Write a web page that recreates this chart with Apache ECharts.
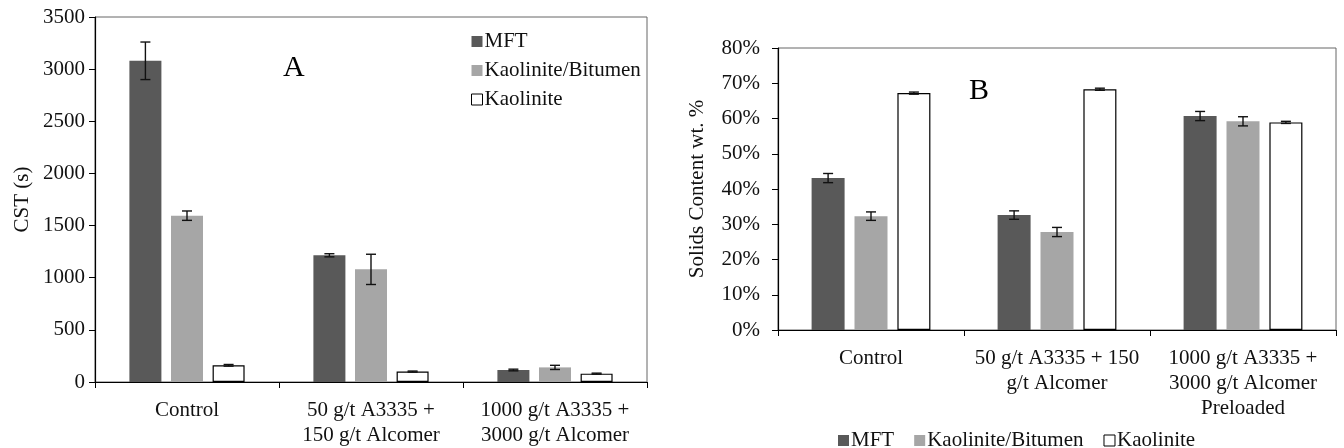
<!DOCTYPE html>
<html>
<head>
<meta charset="utf-8">
<script src="https://cdn.jsdelivr.net/npm/echarts@6/dist/echarts.min.js"></script>
<style>
  html, body { margin: 0; padding: 0; background: #fff; }
  #chart { width: 1344px; height: 448px; }
</style>
</head>
<body>
<div id="chart"></div>
<script>
// Panel A: capillary suction time (s)
const categoriesA = ['Control', '50 g/t A3335 +\n150 g/t Alcomer', '1000 g/t A3335 +\n3000 g/t Alcomer'];
const cstMFT = [3080, 1215, 115];
const cstMFTErr = [180, 15, 8];
const cstKaoBit = [1595, 1080, 140];
const cstKaoBitErr = [45, 145, 20];
const cstKao = [160, 100, 80];
const cstKaoErr = [8, 5, 5];

// Panel B: solids content (wt. %)
const categoriesB = ['Control', '50 g/t A3335 + 150\ng/t Alcomer', '1000 g/t A3335 +\n3000 g/t Alcomer\nPreloaded'];
const solMFT = [43.1, 32.6, 60.7];
const solMFTErr = [1.3, 1.2, 1.3];
const solKaoBit = [32.3, 27.8, 59.2];
const solKaoBitErr = [1.2, 1.3, 1.3];
const solKao = [67.2, 68.3, 58.9];
const solKaoErr = [0.3, 0.3, 0.3];

const seriesNames = ['MFT', 'Kaolinite/Bitumen', 'Kaolinite'];

const FONT = "'Liberation Serif', 'Times New Roman', serif";
const FS = 21;
const TXT = '#111';
const BAR_W_A = 32, BAR_W_B = 33, GAP_RATIO = 0.3;
const fills = ['#595959', '#a6a6a6', '#ffffff'];

function barStyle(i) {
  return i === 2
    ? { color: '#ffffff', borderColor: '#000', borderWidth: 1.2 }
    : { color: fills[i] };
}

function barSeries(name, idx, values, axisIdx, bw) {
  return {
    name: name, type: 'bar', xAxisIndex: axisIdx, yAxisIndex: axisIdx,
    data: values, barWidth: bw, barGap: (GAP_RATIO * 100) + '%',
    itemStyle: barStyle(idx), emphasis: { disabled: true }, z: 2
  };
}

function errData(vals, errs) {
  const out = [];
  vals.forEach((v, s) => v.forEach((y, c) => out.push([c, s, y, errs[s][c]])));
  return out;
}

function errSeries(axisIdx, data, bw) {
  const step = bw * (1 + GAP_RATIO);
  return {
    type: 'custom', xAxisIndex: axisIdx, yAxisIndex: axisIdx, z: 5,
    silent: true, data: data,
    renderItem: function (params, api) {
      const c = api.value(0), s = api.value(1), y = api.value(2), e = api.value(3);
      const hi = api.coord([c, y + e]);
      const lo = api.coord([c, y - e]);
      const x = hi[0] + (s - 1) * step;
      const cap = 5;
      const st = { stroke: '#111', lineWidth: 1.4 };
      return {
        type: 'group', children: [
          { type: 'line', shape: { x1: x, y1: hi[1], x2: x, y2: lo[1] }, style: st },
          { type: 'line', shape: { x1: x - cap, y1: hi[1], x2: x + cap, y2: hi[1] }, style: st },
          { type: 'line', shape: { x1: x - cap, y1: lo[1], x2: x + cap, y2: lo[1] }, style: st }
        ]
      };
    }
  };
}

function legendData() {
  return seriesNames.map((n, i) => ({
    name: n,
    itemStyle: i === 2 ? { color: '#fff', borderColor: '#000', borderWidth: 1 } : { color: fills[i] }
  }));
}

const chart = echarts.init(document.getElementById('chart'), null, { renderer: 'canvas' });

const catAxis = (idx, cats, margin) => ({
  type: 'category', gridIndex: idx, data: cats,
  axisLine: { lineStyle: { color: '#000', width: 1.2 } },
  axisTick: { show: true, alignWithLabel: false, length: 6, lineStyle: { color: '#000' } },
  axisLabel: { fontFamily: FONT, fontSize: FS, color: TXT, lineHeight: 25, margin: margin, interval: 0 },
  splitLine: { show: false }
});

chart.setOption({
  animation: false,
  textStyle: { fontFamily: FONT },
  grid: [
    { left: 95, top: 17, width: 552, height: 368, show: true, borderColor: '#666', borderWidth: 1 },
    { left: 778, top: 48, width: 558, height: 282, show: true, borderColor: '#666', borderWidth: 1 }
  ],
  xAxis: [catAxis(0, categoriesA, 16), catAxis(1, categoriesB, 16)],
  yAxis: [
    {
      type: 'value', gridIndex: 0, min: 0, max: 3500, interval: 500,
      name: 'CST (s)', nameLocation: 'middle', nameGap: 62, nameRotate: 90,
      nameTextStyle: { fontFamily: FONT, fontSize: FS, color: TXT },
      axisLine: { show: true, lineStyle: { color: '#000', width: 1.2 } },
      axisTick: { show: true, length: 6, lineStyle: { color: '#000' } },
      axisLabel: { fontFamily: FONT, fontSize: FS, color: TXT, margin: 10, formatter: v => String(v) },
      splitLine: { show: false }
    },
    {
      type: 'value', gridIndex: 1, min: 0, max: 80, interval: 10,
      name: 'Solids Content wt. %', nameLocation: 'middle', nameGap: 70, nameRotate: 90,
      nameTextStyle: { fontFamily: FONT, fontSize: FS, color: TXT },
      axisLine: { show: true, lineStyle: { color: '#000', width: 1.2 } },
      axisTick: { show: true, length: 6, lineStyle: { color: '#000' } },
      axisLabel: { fontFamily: FONT, fontSize: FS, color: TXT, margin: 18, formatter: '{value}%' },
      splitLine: { show: false }
    }
  ],
  legend: [
    {
      orient: 'vertical', left: 466, top: 26, itemWidth: 11, itemHeight: 11, itemGap: 8,
      icon: 'rect', selectedMode: false, data: legendData(),
      textStyle: { fontFamily: FONT, fontSize: FS, color: TXT, padding: [0, 0, 0, -3] }
    },
    {
      orient: 'horizontal', left: 833, top: 425, itemWidth: 11, itemHeight: 11, itemGap: 20,
      icon: 'rect', selectedMode: false, data: legendData(),
      textStyle: { fontFamily: FONT, fontSize: FS, color: TXT, padding: [0, 0, 0, -3] }
    }
  ],
  graphic: [
    { type: 'text', left: 283, top: 53, style: { text: 'A', font: '30px ' + FONT, fill: '#000' } },
    { type: 'text', left: 969, top: 76, style: { text: 'B', font: '30px ' + FONT, fill: '#000' } }
  ],
  series: [
    barSeries('MFT', 0, cstMFT, 0, BAR_W_A),
    barSeries('Kaolinite/Bitumen', 1, cstKaoBit, 0, BAR_W_A),
    barSeries('Kaolinite', 2, cstKao, 0, BAR_W_A),
    errSeries(0, errData([cstMFT, cstKaoBit, cstKao], [cstMFTErr, cstKaoBitErr, cstKaoErr]), BAR_W_A),
    barSeries('MFT', 0, solMFT, 1, BAR_W_B),
    barSeries('Kaolinite/Bitumen', 1, solKaoBit, 1, BAR_W_B),
    barSeries('Kaolinite', 2, solKao, 1, BAR_W_B),
    errSeries(1, errData([solMFT, solKaoBit, solKao], [solMFTErr, solKaoBitErr, solKaoErr]), BAR_W_B)
  ]
});
</script>
</body>
</html>
